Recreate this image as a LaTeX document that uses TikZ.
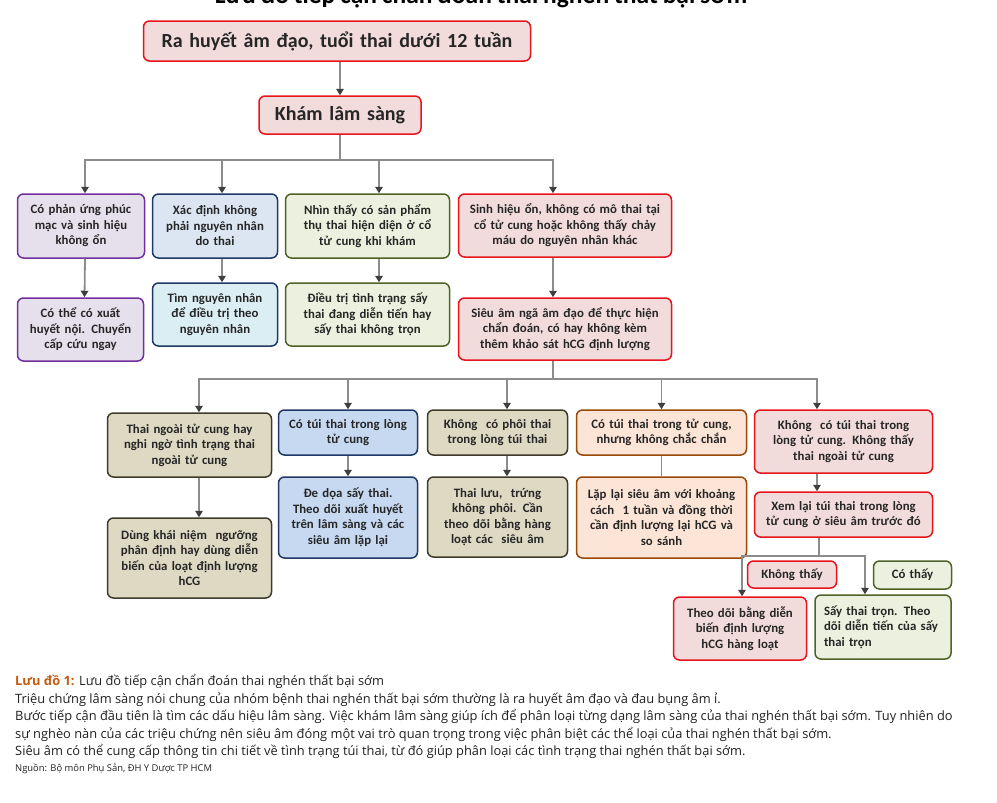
\documentclass[tikz,border=0pt]{standalone}
\usepackage{fontspec}
\setmainfont{Carlito}[WordSpace=0.85]
\newfontfamily\capfont{Open Sans}
\usetikzlibrary{arrows.meta,calc}
\definecolor{rline}{HTML}{E8141C}
\definecolor{rfill}{HTML}{F2DCDB}
\definecolor{pline}{HTML}{7030A0}
\definecolor{pfill}{HTML}{E6E0EC}
\definecolor{bline}{HTML}{1F3864}
\definecolor{bfill}{HTML}{DCE6F2}
\definecolor{cfill}{HTML}{DBEEF4}
\definecolor{b2fill}{HTML}{C6D9F1}
\definecolor{gline}{HTML}{4F6228}
\definecolor{gfill}{HTML}{EBF1DE}
\definecolor{kline}{HTML}{403C2C}
\definecolor{kfill}{HTML}{DDD9C3}
\definecolor{oline}{HTML}{984807}
\definecolor{ofill}{HTML}{FCE4D6}
\definecolor{lgray}{HTML}{8C8C8C}
\definecolor{tipc}{HTML}{3F3F3F}
\definecolor{capor}{HTML}{C55A11}
\tikzset{
  box/.style={rounded corners=6pt,line width=1.5pt,align=center,inner xsep=3pt,inner ysep=2pt,
    text=black!85,font=\bfseries\fontsize{12.8}{15.5}\selectfont},
  rbox/.style={box,draw=rline,fill=rfill},
  pbox/.style={box,draw=pline,fill=pfill},
  bbox/.style={box,draw=bline,fill=bfill},
  cbox/.style={box,draw=bline,fill=cfill},
  b2box/.style={box,draw=bline,fill=b2fill},
  gbox/.style={box,draw=gline,fill=gfill},
  kbox/.style={box,draw=kline,fill=kfill},
  obox/.style={box,draw=oline,fill=ofill},
  big/.style={font=\bfseries\fontsize{20}{24}\selectfont},
  arr/.style={draw=lgray,line width=1.8pt,-{Triangle[width=7.5pt,length=6.5pt,color=tipc]}},
  lnk/.style={draw=lgray,line width=1.8pt},
  captext/.style={anchor=base west,inner sep=0pt,text=black!87,font=\capfont\fontsize{12.85}{15}\selectfont},
}
\begin{document}
\begin{tikzpicture}[x=1pt,y=-1pt]
  \useasboundingbox (0,0) rectangle (997,803);
  \fill[white] (0,0) rectangle (997,803);
  \node[anchor=base,inner sep=0pt,font=\bfseries\fontsize{25.5}{28}\selectfont] (title) at (481,3.5)
    {Lưu đồ tiếp cận chẩn đoán thai nghén thất bại sớm};
  % first steps
  \node[rbox,big,text width=381,minimum height=40] (a) at (337,41) {Ra huyết âm đạo, tuổi thai dưới 12 tuần};
  \node[rbox,big,text width=156,minimum height=38] (b) at (340,115) {Khám lâm sàng};
  % after the clinical exam
  \node[pbox,text width=121,minimum height=64] (c1) at (81,226) {Có phản ứng phúc\\mạc và sinh hiệu\\không ổn};
  \node[bbox,text width=119,minimum height=64] (c2) at (215,226) {Xác định không\\phải nguyên nhân\\do thai};
  \node[gbox,text width=158,minimum height=64] (c3) at (367.5,226) {Nhìn thấy có sản phẩm\\thụ thai hiện diện ở cổ\\tử cung khi khám};
  \node[rbox,text width=207,minimum height=63] (c4) at (565,225.5) {Sinh hiệu ổn, không có mô thai tại\\cổ tử cung hoặc không thấy chảy\\máu do nguyên nhân khác};
  \node[pbox,text width=120,minimum height=63] (d1) at (80.5,329.5) {Có thể có xuất\\huyết nội. Chuyển\\cấp cứu ngay};
  \node[cbox,text width=119,minimum height=63] (d2) at (215,314.5) {Tìm nguyên nhân\\để điều trị theo\\nguyên nhân};
  \node[gbox,text width=158,minimum height=63] (d3) at (367.5,314.5) {Điều trị tình trạng sấy\\thai đang diễn tiến hay\\sấy thai không trọn};
  \node[rbox,text width=207,minimum height=62] (d4) at (565,329) {Siêu âm ngã âm đạo để thực hiện\\chẩn đoán, có hay không kèm\\thêm khảo sát hCG định lượng};
  % ultrasound results
  \node[kbox,text width=158,minimum height=64] (e1) at (189.5,445) {Thai ngoài tử cung hay\\nghi ngờ tình trạng thai\\ngoài tử cung};
  \node[b2box,text width=133,minimum height=45] (e2) at (348,432.5) {Có túi thai trong lòng\\tử cung};
  \node[kbox,text width=134,minimum height=45] (e3) at (497.5,432.5) {Không~ có phôi thai\\trong lòng túi thai};
  \node[obox,text width=164,minimum height=45] (e4) at (661.5,432.5) {Có túi thai trong tử cung,\\nhưng không chắc chắn};
  \node[rbox,text width=172,minimum height=63] (e5) at (843.5,441.5) {Không~ có túi thai trong\\lòng tử cung. Không thấy\\thai ngoài tử cung};
  \node[kbox,text width=158,minimum height=80] (f1) at (189.5,558) {Dùng khái niệm~ ngưỡng\\phân định hay dùng diễn\\biến của loạt định lượng\\hCG};
  \node[b2box,text width=133,minimum height=81] (f2) at (348,517.5) {Đe dọa sấy thai.\\Theo dõi xuất huyết\\trên lâm sàng và các\\siêu âm lặp lại};
  \node[kbox,text width=134,minimum height=80] (f3) at (497.5,517) {Thai lưu,~ trứng\\không phôi. Cần\\theo dõi bằng hàng\\loạt các~ siêu âm};
  \node[obox,text width=164,minimum height=81] (f4) at (661.5,517.5) {Lặp lại siêu âm với khoảng\\cách~ 1 tuần và đồng thời\\cần định lượng lại hCG và\\so sánh};
  \node[rbox,text width=172,minimum height=45] (f5) at (843.5,514.5) {Xem lại túi thai trong lòng\\tử cung ở siêu âm trước đó};
  % last split
  \node[rbox,text width=83,minimum height=27] (l1) at (792,574.5) {Không thấy};
  \node[gbox,text width=72,minimum height=28] (l2) at (912.5,575) {Có thấy};
  \node[rbox,text width=127,minimum height=63] (g1) at (740,628.5) {Theo dõi bằng diễn\\biến định lượng\\hCG hàng loạt};
  \node[gbox,align=left,inner xsep=9pt,text width=118,minimum height=64] (g2) at (883,627) {Sấy thai trọn. Theo\\dõi diễn tiến của sấy\\thai trọn};
  % connectors
  \coordinate (j1) at (340,160);
  \coordinate (j2) at (553,379);
  \coordinate (j3) at (819,556);
  \draw[arr] (a.south -| b) -- (b);
  \draw[lnk] (b) -- (j1);
  \draw[arr] (j1) -| ([xshift=4pt]c1.north);
  \draw[arr] (j1) -| ([xshift=7pt]c2.north);
  \draw[arr] (j1) -| ([xshift=11.5pt]c3.north);
  \draw[arr] (j1) -| ([xshift=-12pt]c4.north);
  \draw[arr] ([xshift=4pt]c1.south) -- ([xshift=4pt]d1.north);
  \draw[arr] ([xshift=7pt]c2.south) -- ([xshift=7pt]d2.north);
  \draw[arr] ([xshift=11.5pt]c3.south) -- ([xshift=11.5pt]d3.north);
  \draw[arr] ([xshift=-12pt]c4.south) -- ([xshift=-12pt]d4.north);
  \draw[lnk] ([xshift=-12pt]d4.south) -- (j2);
  \draw[arr] (j2) -| ([xshift=9.5pt]e1.north);
  \draw[arr] (j2) -| (e2.north);
  \draw[arr] (j2) -| ([xshift=9.5pt]e3.north);
  \draw[arr] (j2) -| (e4.north);
  \draw[arr] (j2) -| ([xshift=-26.5pt]e5.north);
  \draw[arr] ([xshift=9.5pt]e1.south) -- ([xshift=9.5pt]f1.north);
  \draw[arr] (e2) -- (f2);
  \draw[arr] ([xshift=9.5pt]e3.south) -- ([xshift=9.5pt]f3.north);
  \draw[lnk] (e4) -- (f4);
  \draw[arr] ([xshift=-26.5pt]e5.south) -- ([xshift=-26.5pt]f5.north);
  \draw[lnk] ([xshift=-24.5pt]f5.south) -- (j3);
  \draw[arr] (j3) -| ([xshift=2pt]g1.north);
  \draw[arr] (j3) -| ([xshift=-18pt]g2.north);
  % caption
  \node[captext] (cap1) at (15,685) {\textcolor{capor}{\bfseries Lưu đồ 1:} Lưu đồ tiếp cận chẩn đoán thai nghén thất bại sớm};
  \node[captext] (cap2) at (15,703) {Triệu chứng lâm sàng nói chung của nhóm bệnh thai nghén thất bại sớm thường là ra huyết âm đạo và đau bụng âm ỉ.};
  \node[captext] (cap3) at (15,720.5) {Bước tiếp cận đầu tiên là tìm các dấu hiệu lâm sàng. Việc khám lâm sàng giúp ích để phân loại từng dạng lâm sàng của thai nghén thất bại sớm. Tuy nhiên do};
  \node[captext] (cap4) at (15,738) {sự nghèo nàn của các triệu chứng nên siêu âm đóng một vai trò quan trọng trong việc phân biệt các thể loại của thai nghén thất bại sớm.};
  \node[captext] (cap5) at (15,755.5) {Siêu âm có thể cung cấp thông tin chi tiết về tình trạng túi thai, từ đó giúp phân loại các tình trạng thai nghén thất bại sớm.};
  \node[captext,font=\capfont\fontsize{9.4}{11}\selectfont] (src) at (15,771) {Nguồn: Bộ môn Phụ Sản, ĐH Y Dược TP HCM};
\end{tikzpicture}
\end{document}
